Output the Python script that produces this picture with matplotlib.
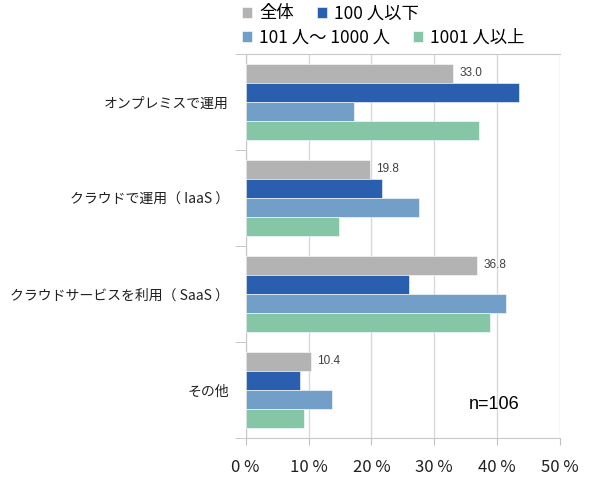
import numpy as np
import matplotlib
matplotlib.use('Agg')
import matplotlib.pyplot as plt
from matplotlib.ticker import FuncFormatter

plt.rcParams['font.family'] = ['Noto Sans CJK JP', 'DejaVu Sans']

# ── Data ──────────────────────────────────────────────────────────────────────
categories = ['オンプレミスで運用', 'クラウドで運用（ IaaS ）',
              'クラウドサービスを利用（ SaaS ）', 'その他']
series_names = ['全体', '100 人以下', '101 人～ 1000 人', '1001 人以上']
all_total  = [33.0, 19.8, 36.8, 10.4]
under_100  = [43.5, 21.7, 26.0, 8.7]
mid_size   = [17.2, 27.6, 41.4, 13.8]
over_1001  = [37.1, 14.9, 38.9, 9.3]
series = [all_total, under_100, mid_size, over_1001]
colors = ['#b3b3b3', '#2a5fb0', '#729fc7', '#84c6a6']
x_ticks = [0, 10, 20, 30, 40, 50]

# ── Draw ──────────────────────────────────────────────────────────────────────
fig = plt.figure(figsize=(5.9, 4.8), dpi=100)
ax = fig.add_axes([0.4164, 0.0875, 0.5326, 0.8])

n = len(series)
bar_h = 0.198
y = np.arange(len(categories))
handles = []
for i, (vals, col) in enumerate(zip(series, colors)):
    off = (i - (n - 1) / 2) * bar_h
    b = ax.barh(y + off, vals, height=bar_h, color=col,
                edgecolor='white', linewidth=0.4, label=series_names[i], zorder=3)
    handles.append(b)

# value labels only for the overall series
for yi, v in zip(y, all_total):
    ax.text(v + 1.0, yi - 1.5 * bar_h, f'{v:.1f}', va='center', ha='left',
            fontsize=8.5, color='#404040', zorder=4,
            family=['Liberation Sans', 'DejaVu Sans'])

ax.set_xlim(0, 50)
ax.set_ylim(len(categories) - 0.5, -0.5)
ax.set_xticks(x_ticks)
ax.xaxis.set_major_formatter(FuncFormatter(lambda v, p: f'{v:.0f} %'))
ax.tick_params(axis='x', labelsize=12, length=5, color='#bfbfbf', pad=10,
               labelcolor='#202020')

ax.set_yticks(y)
ax.set_yticklabels(categories, fontsize=10, color='#202020')
ax.set_yticks(np.arange(-0.5, len(categories)), minor=True)
ax.tick_params(axis='y', which='major', length=0, pad=12)
ax.tick_params(axis='y', which='minor', length=8, color='#bfbfbf')

ax.grid(axis='x', color='#d9d9d9', linewidth=1, zorder=0)
for s in ['left', 'bottom', 'top']:
    ax.spines[s].set_color('#c8c8c8')
ax.spines['right'].set_visible(False)

ax.text(0.873, 0.086, 'n=106', transform=ax.transAxes, ha='right', va='center',
        fontsize=13, family=['Liberation Sans', 'DejaVu Sans'])

# legend in two rows
leg_kw = dict(frameon=False, ncol=2, fontsize=12.5, handlelength=0.6,
              handleheight=0.6, handletextpad=0.4, columnspacing=1.3,
              borderaxespad=0, borderpad=0, loc='center left')
fig.legend(handles[:2], series_names[:2], bbox_to_anchor=(0.41, 0.972), **leg_kw)
fig.legend(handles[2:], series_names[2:], bbox_to_anchor=(0.41, 0.922), **leg_kw)

plt.savefig('out.png', dpi=100, facecolor='white')
plt.close()
